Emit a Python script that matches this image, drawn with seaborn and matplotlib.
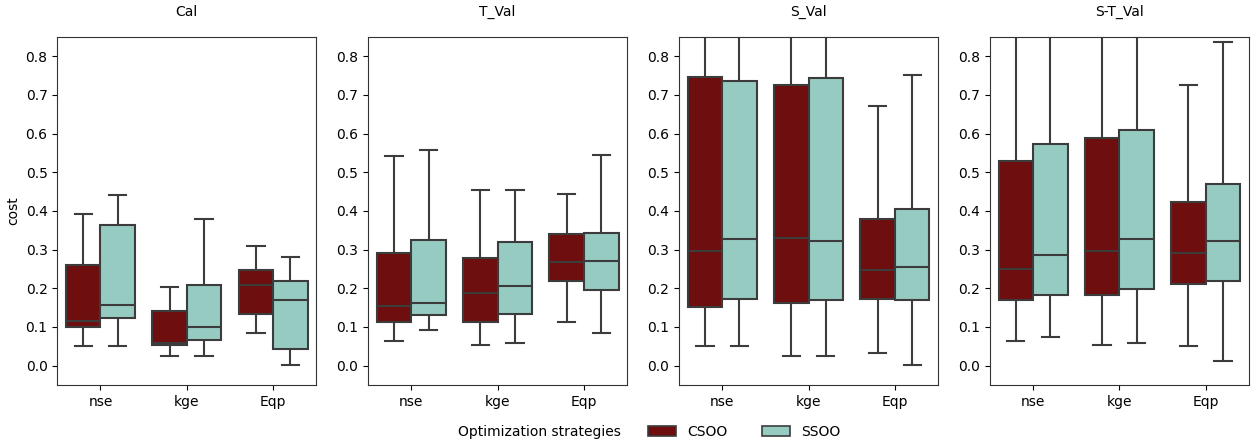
import matplotlib
matplotlib.use("Agg")
import matplotlib.pyplot as plt
import matplotlib.patches as mpatches
import seaborn as sns
import pandas as pd

# five-number summaries: [min, q1, median, q3, max]
periods = ["Cal", "T_Val", "S_Val", "S-T_Val"]
metrics = ["nse", "kge", "Eqp"]
strategies = ["CSOO", "SSOO"]

cal_csoo = [[0.050, 0.101, 0.115, 0.261, 0.392],
            [0.026, 0.053, 0.059, 0.141, 0.203],
            [0.084, 0.134, 0.209, 0.247, 0.309]]
cal_ssoo = [[0.050, 0.122, 0.158, 0.364, 0.441],
            [0.026, 0.067, 0.099, 0.209, 0.378],
            [0.002, 0.043, 0.171, 0.218, 0.282]]

tval_csoo = [[0.064, 0.112, 0.155, 0.291, 0.541],
             [0.053, 0.112, 0.188, 0.278, 0.454],
             [0.112, 0.219, 0.267, 0.340, 0.444]]
tval_ssoo = [[0.091, 0.131, 0.161, 0.326, 0.557],
             [0.058, 0.134, 0.205, 0.319, 0.454],
             [0.084, 0.196, 0.271, 0.344, 0.544]]

sval_csoo = [[0.050, 0.151, 0.296, 0.747, 1.000],
             [0.026, 0.163, 0.329, 0.726, 1.000],
             [0.034, 0.172, 0.247, 0.378, 0.672]]
sval_ssoo = [[0.050, 0.172, 0.327, 0.737, 1.000],
             [0.026, 0.171, 0.323, 0.744, 1.000],
             [0.002, 0.171, 0.254, 0.405, 0.751]]

stval_csoo = [[0.064, 0.171, 0.251, 0.529, 1.000],
              [0.053, 0.184, 0.296, 0.589, 1.000],
              [0.050, 0.212, 0.291, 0.422, 0.727]]
stval_ssoo = [[0.074, 0.182, 0.285, 0.572, 1.000],
              [0.058, 0.199, 0.327, 0.609, 1.000],
              [0.012, 0.220, 0.323, 0.471, 0.837]]

summaries = {
    "Cal": (cal_csoo, cal_ssoo),
    "T_Val": (tval_csoo, tval_ssoo),
    "S_Val": (sval_csoo, sval_ssoo),
    "S-T_Val": (stval_csoo, stval_ssoo),
}

colors = {"CSOO": "#6f0e0e", "SSOO": "#96cbc1"}
line_col = "#3c3c3c"

# long-form table (5 points per box -> quartiles hit the summary exactly)
rows = []
for p in periods:
    for s, groups in zip(strategies, summaries[p]):
        for m, vals in zip(metrics, groups):
            for v in vals:
                rows.append({"period": p, "metric": m, "strategy": s, "cost": v})
df = pd.DataFrame(rows)

fig, axes = plt.subplots(1, 4, figsize=(12.59, 4.4), dpi=100)
plt.subplots_adjust(left=0.0455, right=0.992, top=0.916, bottom=0.125, wspace=0.20)

for i, (ax, p) in enumerate(zip(axes, periods)):
    sns.boxplot(
        data=df[df["period"] == p],
        x="metric", y="cost", hue="strategy",
        order=metrics, hue_order=strategies,
        palette=colors, saturation=1,
        whis=(0, 100), width=0.8, gap=0,
        linecolor=line_col, linewidth=1.5,
        legend=False, ax=ax,
    )
    ax.set_ylim(-0.05, 0.85)
    ax.set_yticks([0.0, 0.1, 0.2, 0.3, 0.4, 0.5, 0.6, 0.7, 0.8])
    ax.set_title(p, fontsize=10, pad=15)
    ax.set_xlabel("")
    ax.set_ylabel("cost" if i == 0 else "")
    for sp in ax.spines.values():
        sp.set_color("#333333")

# legend row at the bottom
fig.text(0.364, 0.019, "Optimization strategies", fontsize=10, va="center")
handles = [mpatches.Patch(facecolor=colors[s], edgecolor=line_col, linewidth=1.2, label=s)
           for s in strategies]
fig.legend(handles=handles, loc="center left", bbox_to_anchor=(0.505, 0.019),
           ncol=2, frameon=False, fontsize=10, columnspacing=2.5,
           handlelength=2.0, handleheight=0.7)

fig.savefig("out.png", dpi=100)
